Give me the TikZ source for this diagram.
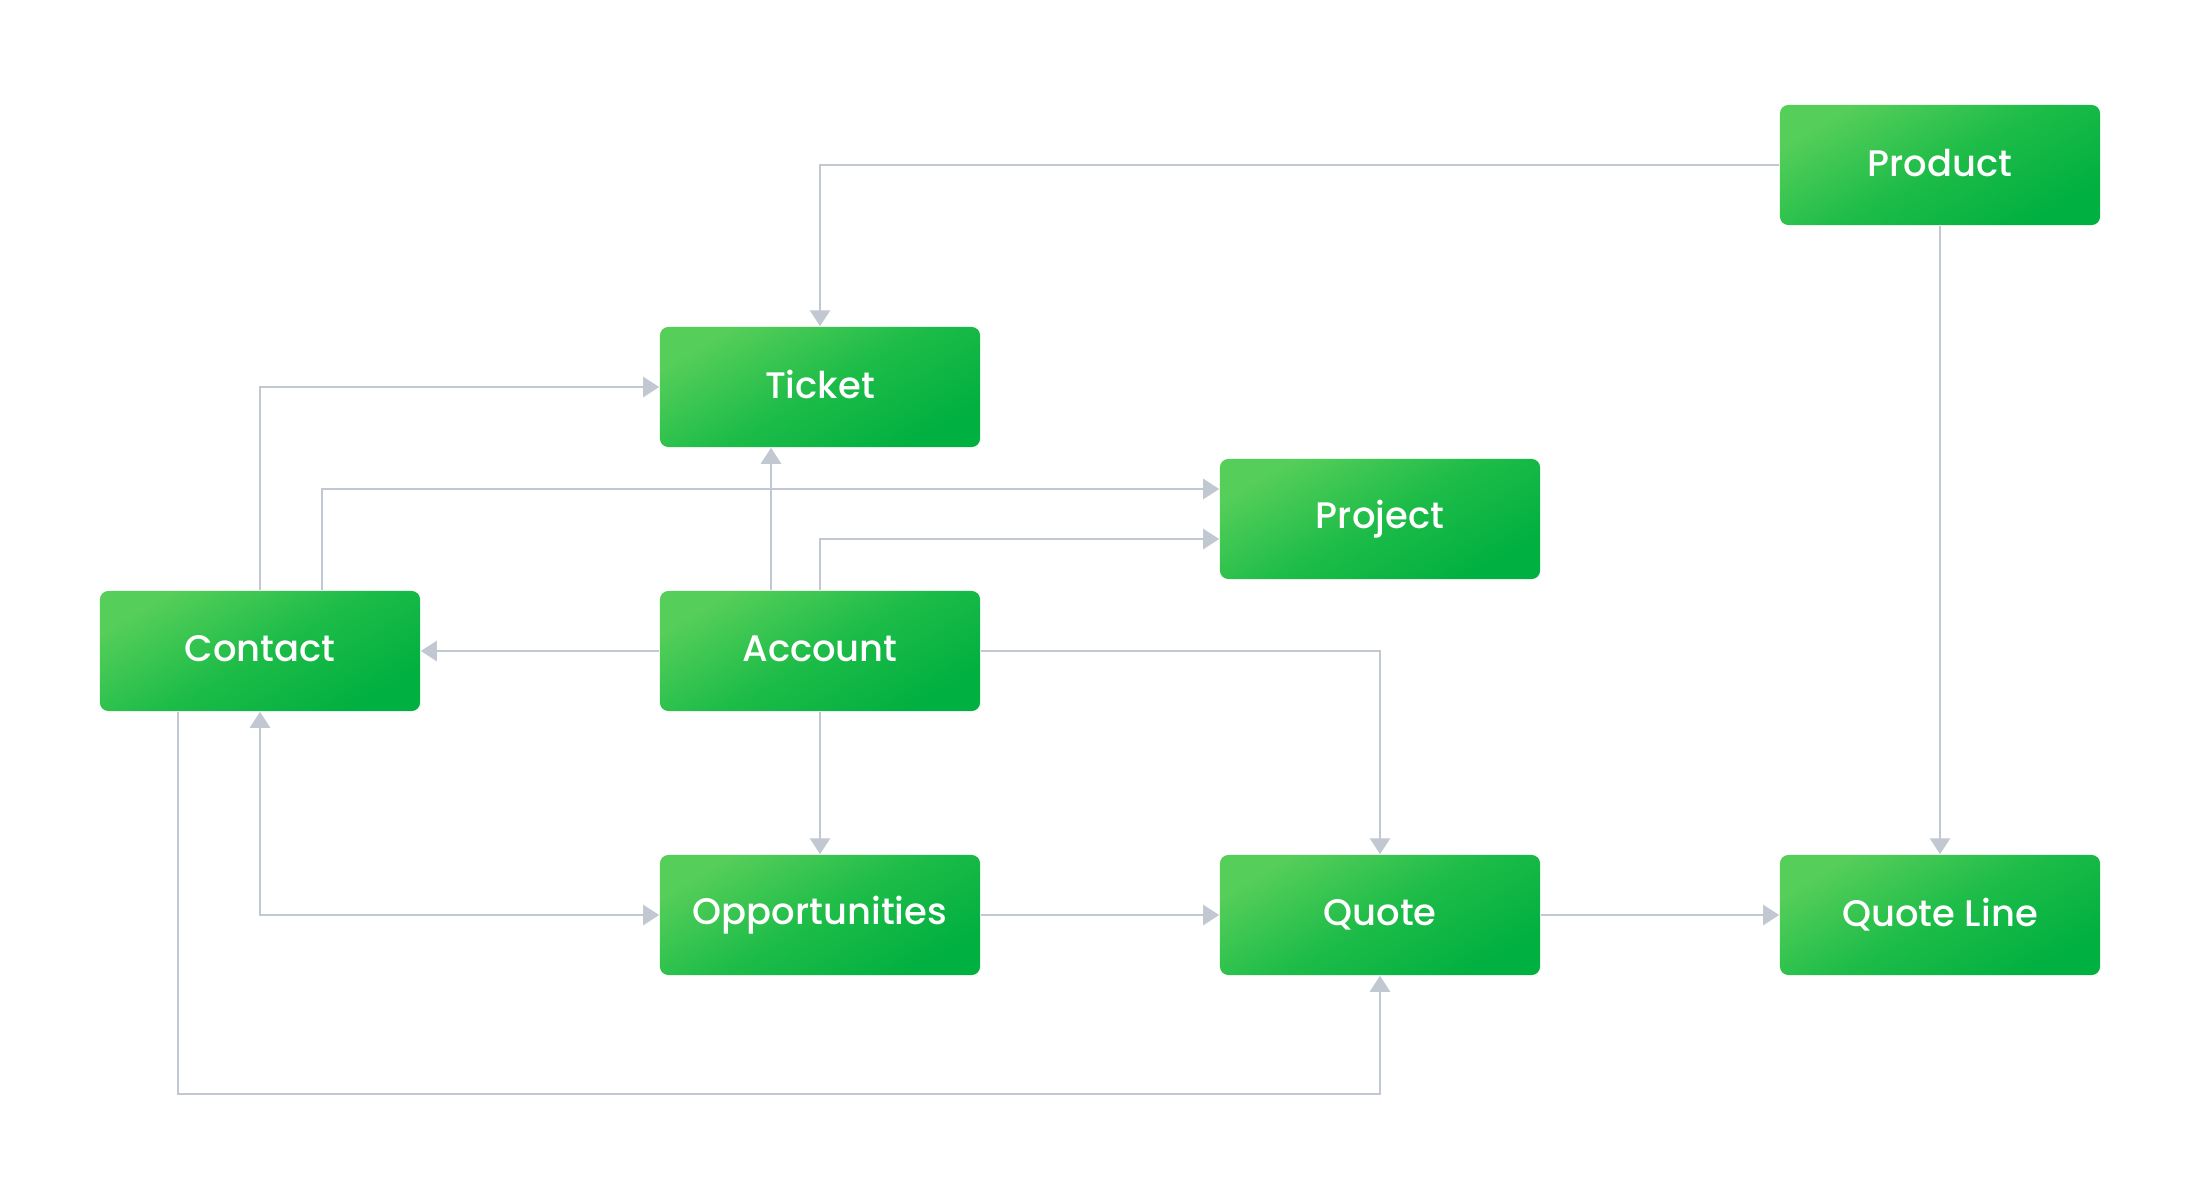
\documentclass[tikz,border=0pt]{standalone}
\usepackage{fontspec}
\setmainfont{Poppins}[UprightFont=* Medium]
\usetikzlibrary{arrows.meta,calc}
\definecolor{gLight}{RGB}{86,206,90}
\definecolor{gDark}{RGB}{0,176,64}
\definecolor{gMid}{RGB}{30,188,72}
\definecolor{lineC}{RGB}{194,200,210}
\begin{document}
\begin{tikzpicture}[x=0.01cm,y=-0.01cm,
  box/.style={rounded corners=2.4pt, minimum width=3.2cm, minimum height=1.2cm,
    inner sep=0pt, text=white, font=\fontsize{10.5}{12}\selectfont,
    top color=gLight, bottom color=gDark, middle color=gMid, shading angle=30},
  conn/.style={draw=lineC, line width=0.7pt, -{Triangle[length=0.16cm,width=0.2cm]}},
  conn2/.style={draw=lineC, line width=0.7pt, {Triangle[length=0.16cm,width=0.2cm]}-{Triangle[length=0.16cm,width=0.2cm]}}]
\useasboundingbox (0,0) rectangle (2200,1200);
\fill[white] (0,0) rectangle (2200,1200);
\node[box] (product) at (1940,165) {\raisebox{1.5pt}{Product}};
\node[box] (ticket) at (820,387) {\raisebox{1.5pt}{Ticket}};
\node[box] (project) at (1380,519) {\raisebox{1.5pt}{Project}};
\node[box] (contact) at (260,651) {\raisebox{1.5pt}{Contact}};
\node[box] (account) at (820,651) {\raisebox{1.5pt}{Account}};
\node[box] (opp) at (820,915) {\raisebox{1.5pt}{Opportunities}};
\node[box] (quote) at (1380,915) {\raisebox{1.5pt}{Quote}};
\node[box] (qline) at (1940,915) {\raisebox{1.5pt}{Quote Line}};
\draw[conn] (product.west) -| (ticket.north);
\draw[conn] (product.south) -- (qline.north);
\draw[conn] (contact.north) |- (ticket.west);
\draw[conn] ($(contact.north)+(62,0)$) |- ($(project.west)+(0,-30)$);
\draw[conn] ($(account.north)+(-49,0)$) -- ($(ticket.south)+(-49,0)$);
\draw[conn] (account.north) |- ($(project.west)+(0,20)$);
\draw[conn] (account.west) -- (contact.east);
\draw[conn] (account.east) -| (quote.north);
\draw[conn] (account.south) -- (opp.north);
\draw[conn2] (contact.south) |- (opp.west);
\draw[conn] (opp.east) -- (quote.west);
\draw[conn] (quote.east) -- (qline.west);
\draw[conn] ($(contact.south)+(-82,0)$) |- ($(quote.south)+(0,118)$) -- (quote.south);
\end{tikzpicture}
\end{document}
